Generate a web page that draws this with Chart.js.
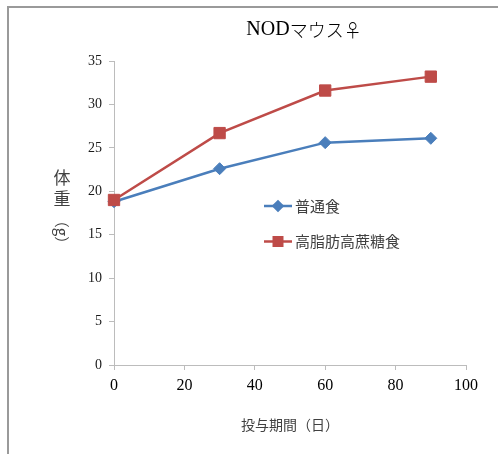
<!DOCTYPE html>
<html>
<head>
<meta charset="utf-8">
<script src="https://cdn.jsdelivr.net/npm/chart.js@4/dist/chart.umd.min.js"></script>
<style>
  html, body { margin: 0; padding: 0; background: #fff; }
  #wrap { position: relative; width: 498px; height: 454px; overflow: hidden; }
  #frame { position: absolute; left: 7px; top: 6px; width: 600px; height: 600px;
           border-top: 2px solid #9a9a9a; border-left: 2px solid #9a9a9a; }
  canvas { position: absolute; left: 0; top: 0; }
</style>
</head>
<body>
<div id="wrap">
  <div id="frame"></div>
  <canvas id="c" width="498" height="454"></canvas>
</div>
<script>
// Body weight of female NOD mice by feeding period
const chartTitleLatin = 'NOD';
const chartTitleKana = 'マウス♀';
const xTitle = '投与期間（日）';
const yTitleChars = ['体', '重'];
const yTitleUnit = '（g）';

const days = [0, 30, 60, 90];
const seriesNames = ['普通食', '高脂肪高蔗糖食'];
const normalDiet = [18.8, 22.6, 25.6, 26.1];
const highFatSucrose = [19.0, 26.7, 31.6, 33.2];

const xTicks = [0, 20, 40, 60, 80, 100];
const yTicks = [0, 5, 10, 15, 20, 25, 30, 35];

const serif = '"Liberation Serif", "DejaVu Serif", "Noto Sans CJK JP", serif';
const gothic = '"Noto Sans CJK JP", "DejaVu Sans", sans-serif';

const toPoints = (vals) => days.map((d, i) => ({ x: d, y: vals[i] }));

const styles = [
  { color: '#4a7ebb', pointStyle: 'rectRot', radius: 6, legendRadius: 4.5 },
  { color: '#be4b48', pointStyle: 'rect', radius: 8, legendRadius: 6 }
];

const overlay = {
  id: 'overlay',
  afterDraw(chart) {
    const ctx = chart.ctx;
    const a = chart.chartArea;
    ctx.save();

    // chart title: latin part in serif, kana part in CJK face
    ctx.fillStyle = '#000';
    ctx.textBaseline = 'middle';
    ctx.font = '20px ' + serif;
    const w1 = ctx.measureText(chartTitleLatin).width;
    ctx.font = '300 18px ' + gothic;
    const w2 = ctx.measureText(chartTitleKana).width;
    const startX = 304 - (w1 + w2) / 2;
    ctx.textAlign = 'left';
    ctx.font = '20px ' + serif;
    ctx.fillText(chartTitleLatin, startX, 30);
    ctx.font = '300 18px ' + gothic;
    ctx.fillText(chartTitleKana, startX + w1, 30);

    // x-axis title
    ctx.textAlign = 'center';
    ctx.fillStyle = '#404040';
    ctx.font = '14px ' + gothic;
    ctx.fillText(xTitle, (a.left + a.right) / 2, 425);

    // y-axis title, stacked vertically
    ctx.font = '17px ' + gothic;
    yTitleChars.forEach((ch, i) => ctx.fillText(ch, 62, 178 + i * 21));
    ctx.save();
    ctx.translate(62, 232);
    ctx.rotate(Math.PI / 2);
    ctx.font = '15px ' + gothic;
    ctx.fillText(yTitleUnit, 0, 0);
    ctx.restore();

    // legend inside the plot
    chart.data.datasets.forEach((ds, i) => {
      const st = styles[i];
      const y = 206 + i * 35.5;
      ctx.strokeStyle = ds.borderColor;
      ctx.lineWidth = 2.5;
      ctx.beginPath();
      ctx.moveTo(264, y);
      ctx.lineTo(292, y);
      ctx.stroke();
      ctx.fillStyle = ds.pointBackgroundColor;
      ctx.strokeStyle = ds.pointBorderColor;
      Chart.helpers.drawPoint(ctx, {
        pointStyle: ds.pointStyle, radius: st.legendRadius, borderWidth: 1, rotation: 0
      }, 278, y);
      ctx.fillStyle = '#404040';
      ctx.textAlign = 'left';
      ctx.textBaseline = 'middle';
      ctx.font = '15px ' + gothic;
      ctx.fillText(ds.label, 295, y);
    });

    ctx.restore();
  }
};

const makeDataset = (label, vals, st, order) => ({
  label,
  data: toPoints(vals),
  showLine: true,
  tension: 0,
  borderColor: st.color,
  borderWidth: 2.5,
  pointStyle: st.pointStyle,
  pointRadius: st.radius,
  pointHoverRadius: st.radius,
  pointBackgroundColor: st.color,
  pointBorderColor: st.color,
  pointBorderWidth: 1,
  clip: false,
  order
});

new Chart(document.getElementById('c'), {
  type: 'scatter',
  data: {
    datasets: [
      makeDataset(seriesNames[0], normalDiet, styles[0], 1),
      makeDataset(seriesNames[1], highFatSucrose, styles[1], 0)
    ]
  },
  options: {
    responsive: false,
    animation: false,
    layout: { padding: { left: 0, right: 32, top: 61, bottom: 0 } },
    plugins: { legend: { display: false }, title: { display: false }, tooltip: { enabled: false } },
    scales: {
      x: {
        type: 'linear',
        min: 0, max: 100,
        afterBuildTicks: (s) => { s.ticks = xTicks.map(v => ({ value: v })); },
        afterFit: (s) => { s.height = 89; },
        grid: { drawOnChartArea: false, drawTicks: true, tickLength: 5, color: '#bcbcbc' },
        border: { display: true, color: '#bcbcbc', width: 1 },
        ticks: { color: '#000', font: { family: serif, size: 16 }, padding: 6, maxRotation: 0 }
      },
      y: {
        type: 'linear',
        min: 0, max: 35,
        afterBuildTicks: (s) => { s.ticks = yTicks.map(v => ({ value: v })); },
        afterFit: (s) => { s.width = 114; },
        grid: { drawOnChartArea: false, drawTicks: true, tickLength: 5, color: '#bcbcbc' },
        border: { display: true, color: '#bcbcbc', width: 1 },
        ticks: { color: '#1a1a1a', font: { family: serif, size: 14 }, padding: 7 }
      }
    }
  },
  plugins: [overlay]
});
</script>
</body>
</html>
